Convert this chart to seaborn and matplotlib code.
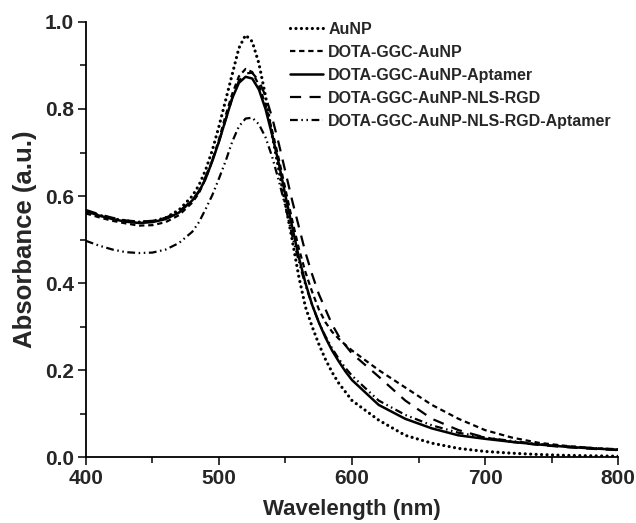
import numpy as np
import pandas as pd
import matplotlib
matplotlib.use("Agg")
import matplotlib.pyplot as plt
from matplotlib.ticker import MultipleLocator
import seaborn as sns

sns.set_style("ticks")
plt.rcParams['font.family'] = ['Liberation Sans', 'DejaVu Sans']
plt.rcParams['font.weight'] = 'bold'

wavelength = [400, 410, 420, 430, 440, 450, 460, 470,
              480, 485, 490, 495, 500, 505, 510, 515, 520, 525, 530, 535, 540,
              545, 550, 555, 560, 565, 570, 575, 580, 585, 590, 595, 600,
              620, 640, 660, 680, 700, 720, 740, 760, 780, 800]

aunp = [0.565, 0.556, 0.548, 0.543, 0.540, 0.542, 0.550, 0.568,
        0.600, 0.625, 0.660, 0.705, 0.760, 0.820, 0.880, 0.940, 0.970, 0.955, 0.905, 0.830, 0.740,
        0.660, 0.580, 0.500, 0.415, 0.345, 0.300, 0.260, 0.225, 0.195, 0.170, 0.150, 0.130,
        0.085, 0.050, 0.032, 0.020, 0.013, 0.009, 0.006, 0.004, 0.003, 0.002]

dota = [0.560, 0.551, 0.543, 0.537, 0.532, 0.533, 0.540, 0.556,
        0.585, 0.607, 0.640, 0.682, 0.730, 0.785, 0.835, 0.875, 0.892, 0.885, 0.855, 0.810, 0.750,
        0.685, 0.615, 0.545, 0.480, 0.425, 0.380, 0.340, 0.310, 0.288, 0.272, 0.258, 0.245,
        0.200, 0.160, 0.120, 0.088, 0.062, 0.045, 0.033, 0.026, 0.021, 0.017]

dota_apt = [0.565, 0.555, 0.547, 0.541, 0.538, 0.540, 0.547, 0.562,
            0.590, 0.610, 0.640, 0.680, 0.725, 0.775, 0.825, 0.860, 0.874, 0.870, 0.845, 0.800, 0.740,
            0.675, 0.600, 0.530, 0.460, 0.400, 0.350, 0.310, 0.275, 0.245, 0.220, 0.197, 0.177,
            0.120, 0.088, 0.066, 0.050, 0.042, 0.035, 0.029, 0.024, 0.020, 0.017]

dota_nls = [0.568, 0.558, 0.550, 0.544, 0.541, 0.543, 0.550, 0.565,
            0.590, 0.612, 0.645, 0.682, 0.725, 0.775, 0.825, 0.865, 0.882, 0.883, 0.865, 0.830, 0.780,
            0.720, 0.655, 0.590, 0.530, 0.470, 0.420, 0.375, 0.340, 0.305, 0.278, 0.257, 0.238,
            0.185, 0.130, 0.088, 0.062, 0.045, 0.035, 0.028, 0.023, 0.019, 0.016]

dota_nls_apt = [0.497, 0.486, 0.477, 0.471, 0.469, 0.470, 0.477, 0.492,
                0.518, 0.540, 0.570, 0.602, 0.640, 0.680, 0.725, 0.760, 0.778, 0.780, 0.765, 0.735, 0.690,
                0.635, 0.575, 0.510, 0.450, 0.395, 0.350, 0.310, 0.278, 0.250, 0.226, 0.205, 0.187,
                0.130, 0.097, 0.073, 0.056, 0.045, 0.037, 0.030, 0.025, 0.021, 0.018]

labels = ["AuNP", "DOTA-GGC-AuNP", "DOTA-GGC-AuNP-Aptamer",
          "DOTA-GGC-AuNP-NLS-RGD", "DOTA-GGC-AuNP-NLS-RGD-Aptamer"]
series = [aunp, dota, dota_apt, dota_nls, dota_nls_apt]

styles = [
    dict(linestyle=(0, (0.01, 1.7)), linewidth=2.3, dash_capstyle='round'),
    dict(linestyle=(0, (2.4, 1.7)), linewidth=1.6),
    dict(linestyle='-', linewidth=1.8),
    dict(linestyle=(0, (5, 3.8)), linewidth=1.6),
    dict(linestyle=(0, (3.5, 1.6, 0.7, 1.6, 0.7, 1.6)), linewidth=1.6),
]

fig = plt.figure(figsize=(6.36, 5.23), dpi=100)
ax = fig.add_axes([0.135, 0.126, 0.837, 0.832])

for lab, vals, st in zip(labels, series, styles):
    df = pd.DataFrame({"wl": wavelength, "abs": vals})
    sns.lineplot(data=df, x="wl", y="abs", ax=ax, color="black", label=lab, **st)

ax.set_xlim(400, 800)
ax.set_ylim(0, 1.0)
ax.xaxis.set_major_locator(MultipleLocator(100))
ax.xaxis.set_minor_locator(MultipleLocator(50))
ax.yaxis.set_major_locator(MultipleLocator(0.2))
ax.yaxis.set_minor_locator(MultipleLocator(0.1))
ax.yaxis.set_major_formatter(matplotlib.ticker.FormatStrFormatter('%.1f'))
ax.tick_params(which='major', direction='out', length=6, width=1.3, labelsize=15, pad=2.5)
ax.tick_params(which='minor', direction='out', length=4, width=1.3)
for lbl in ax.get_xticklabels() + ax.get_yticklabels():
    lbl.set_fontweight('bold')
sns.despine(ax=ax)
for s in ['left', 'bottom']:
    ax.spines[s].set_linewidth(1.3)
    ax.spines[s].set_color('black')

ax.set_xlabel("Wavelength (nm)", fontsize=16, fontweight='bold', labelpad=8)
ax.set_ylabel("Absorbance (a.u.)", fontsize=18.5, fontweight='bold', labelpad=6)

leg = ax.legend(loc='upper right', bbox_to_anchor=(1.0, 1.015), frameon=False,
                prop={'size': 11.5, 'weight': 'bold'}, handlelength=2.1,
                handletextpad=0.3, labelspacing=0.5, borderaxespad=0.0)

fig.savefig("out.png", dpi=100)
